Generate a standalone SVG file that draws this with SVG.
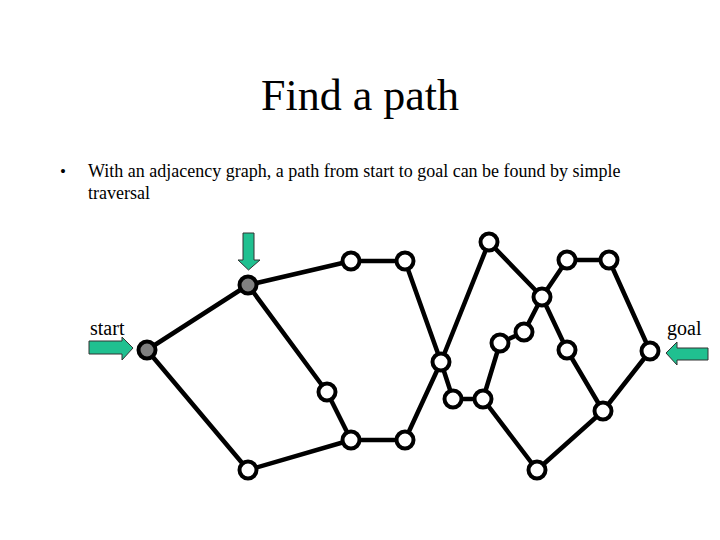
<svg xmlns="http://www.w3.org/2000/svg" width="720" height="540" viewBox="0 0 720 540">
<style>
.t{font-family:"Liberation Serif","Times New Roman",serif;fill:#000}
.e line{stroke:#000;stroke-width:4.5;stroke-linecap:round}
.n{fill:#fff;stroke:#000;stroke-width:4}
.g{fill:#808080;stroke:#000;stroke-width:4}
.ar{fill:#20C090;stroke:#333;stroke-width:1}
</style>
<rect width="720" height="540" fill="#fff"/>
<text class="t" x="360" y="110" font-size="44" text-anchor="middle">Find a path</text>
<text class="t" x="60" y="177" font-size="17">•</text>
<text class="t" x="88" y="177" font-size="18">With an adjacency graph, a path from start to goal can be found by simple</text>
<text class="t" x="88" y="199" font-size="18">traversal</text>
<text class="t" x="90" y="335" font-size="20">start</text>
<text class="t" x="667" y="335" font-size="20">goal</text>
<g id="connectors" class="e">
<line x1="147" y1="350" x2="248" y2="285"/>
<line x1="147" y1="350" x2="248" y2="470"/>
<line x1="248" y1="285" x2="351" y2="261"/>
<line x1="248" y1="285" x2="327" y2="392"/>
<line x1="351" y1="261" x2="405" y2="261"/>
<line x1="405" y1="261" x2="441" y2="362"/>
<line x1="441" y1="362" x2="489" y2="242"/>
<line x1="441" y1="362" x2="453" y2="399"/>
<line x1="489" y1="242" x2="542" y2="297"/>
<line x1="542" y1="297" x2="567" y2="260"/>
<line x1="567" y1="260" x2="609" y2="260"/>
<line x1="542" y1="297" x2="524" y2="332"/>
<line x1="524" y1="332" x2="500" y2="343"/>
<line x1="500" y1="343" x2="483" y2="399"/>
<line x1="542" y1="297" x2="567" y2="350"/>
<line x1="567" y1="350" x2="603" y2="411"/>
<line x1="609" y1="260" x2="650" y2="351"/>
<line x1="650" y1="351" x2="603" y2="411"/>
<line x1="603" y1="411" x2="537" y2="470"/>
<line x1="483" y1="399" x2="537" y2="470"/>
<line x1="453" y1="399" x2="483" y2="399"/>
<line x1="327" y1="392" x2="351" y2="440"/>
<line x1="351" y1="440" x2="248" y2="470"/>
<line x1="351" y1="440" x2="405" y2="440"/>
<line x1="405" y1="440" x2="441" y2="362"/>
</g>
<g id="node-start"><circle class="g" cx="147" cy="350" r="8.5"/></g>
<g id="node-a"><circle class="g" cx="248" cy="285" r="8.5"/></g>
<g id="node-b"><circle class="n" cx="351" cy="261" r="8.5"/></g>
<g id="node-c"><circle class="n" cx="405" cy="261" r="8.5"/></g>
<g id="node-d"><circle class="n" cx="441" cy="362" r="8.5"/></g>
<g id="node-e"><circle class="n" cx="489" cy="242" r="8.5"/></g>
<g id="node-f"><circle class="n" cx="542" cy="297" r="8.5"/></g>
<g id="node-g"><circle class="n" cx="567" cy="260" r="8.5"/></g>
<g id="node-h"><circle class="n" cx="609" cy="260" r="8.5"/></g>
<g id="node-i"><circle class="n" cx="524" cy="332" r="8.5"/></g>
<g id="node-j"><circle class="n" cx="500" cy="343" r="8.5"/></g>
<g id="node-k"><circle class="n" cx="567" cy="350" r="8.5"/></g>
<g id="node-goal"><circle class="n" cx="650" cy="351" r="8.5"/></g>
<g id="node-m"><circle class="n" cx="327" cy="392" r="8.5"/></g>
<g id="node-n"><circle class="n" cx="351" cy="440" r="8.5"/></g>
<g id="node-o"><circle class="n" cx="248" cy="470" r="8.5"/></g>
<g id="node-p"><circle class="n" cx="405" cy="440" r="8.5"/></g>
<g id="node-q"><circle class="n" cx="453" cy="399" r="8.5"/></g>
<g id="node-r"><circle class="n" cx="483" cy="399" r="8.5"/></g>
<g id="node-t"><circle class="n" cx="537" cy="470" r="8.5"/></g>
<g id="node-u"><circle class="n" cx="603" cy="411" r="8.5"/></g>
<g id="arrow-down"><polygon class="ar" points="243,233 254,233 254,260 260,260 248.5,270 238,260 243,260"/></g>
<g id="arrow-start"><polygon class="ar" points="89,341 122,341 122,337 133,348 122,360 122,354 89,354"/></g>
<g id="arrow-goal"><polygon class="ar" points="708,348 677,348 677,342 666,353 677,365 677,360 708,360"/></g>
</svg>
